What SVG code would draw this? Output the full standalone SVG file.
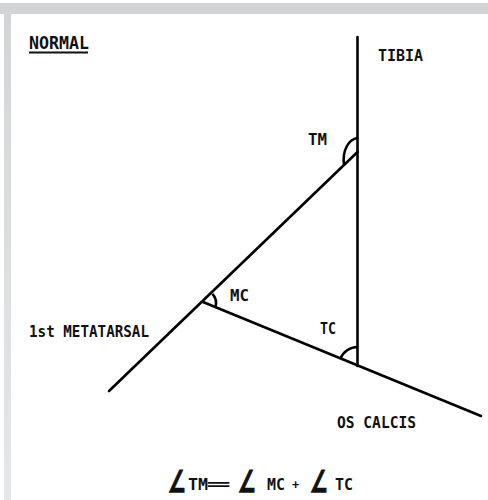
<svg xmlns="http://www.w3.org/2000/svg" width="488" height="500" viewBox="0 0 488 500">
  <defs>
    <linearGradient id="leftband" x1="0" y1="0" x2="0" y2="1">
      <stop offset="0" stop-color="#d3d4d6"/>
      <stop offset="1" stop-color="#e6e7e8"/>
    </linearGradient>
  </defs>
  <style>
    .ln { stroke: #000; stroke-width: 2.6; fill: none; stroke-linecap: round; }
    .arc { stroke: #000; stroke-width: 2.6; fill: none; }
    .t { font-family: "DejaVu Sans Mono", "Liberation Mono", monospace; font-weight: bold; fill: #111; }
    .ang { font-family: "DejaVu Sans", "Liberation Sans", sans-serif; font-weight: bold; fill: #111; stroke: #111; stroke-width: 1.4; }
  </style>
  <rect x="0" y="0" width="488" height="500" fill="#fff"/>
  <rect x="0" y="3" width="488" height="11" fill="#d3d4d6"/>
  <rect x="4" y="3" width="7" height="497" fill="url(#leftband)"/>

  <g id="connectors">
    <line id="tibia-line" class="ln" x1="357.5" y1="37" x2="357.5" y2="366"/>
    <line id="metatarsal-line" class="ln" x1="109" y1="391" x2="357.5" y2="152"/>
    <line id="calcis-line" class="ln" x1="203" y1="302" x2="481" y2="416"/>
    <path id="arc-tm" class="arc" d="M357.5,138 C349,139 342,150 344,165"/>
    <path id="arc-mc" class="arc" d="M212.4,293.8 A13,13 0 0 1 215.2,307.2"/>
    <path id="arc-tc" class="arc" d="M357.5,347 A18.5,18.5 0 0 0 340.4,358.8"/>
  </g>

  <g id="title">
    <text class="t" x="29" y="49" font-size="17" textLength="60" lengthAdjust="spacingAndGlyphs">NORMAL</text>
    <line x1="29" y1="52.5" x2="88" y2="52.5" stroke="#111" stroke-width="2"/>
  </g>
  <g id="tibia"><text class="t" x="378" y="61" font-size="16" textLength="45" lengthAdjust="spacingAndGlyphs">TIBIA</text></g>
  <g id="tm"><text class="t" x="308" y="145" font-size="15" textLength="19" lengthAdjust="spacingAndGlyphs">TM</text></g>
  <g id="mc"><text class="t" x="230" y="301" font-size="15" textLength="19" lengthAdjust="spacingAndGlyphs">MC</text></g>
  <g id="metatarsal"><text class="t" x="29" y="337" font-size="16" textLength="120" lengthAdjust="spacingAndGlyphs">1st METATARSAL</text></g>
  <g id="tc"><text class="t" x="320" y="334" font-size="15" textLength="16" lengthAdjust="spacingAndGlyphs">TC</text></g>
  <g id="os-calcis"><text class="t" x="337" y="428" font-size="16" textLength="79" lengthAdjust="spacingAndGlyphs">OS CALCIS</text></g>

  <g id="equation">
    <text class="ang" x="0" y="0" font-size="30" transform="translate(168,492) scale(0.65,1)">∠</text>
    <text class="t" x="188" y="490" font-size="16" textLength="20" lengthAdjust="spacingAndGlyphs">TM</text>
    <text class="t" x="0" y="0" font-size="16" transform="translate(206,489) scale(2.6,1)">=</text>
    <text class="ang" x="0" y="0" font-size="30" transform="translate(238,492) scale(0.65,1)">∠</text>
    <text class="t" x="267" y="490" font-size="15" textLength="18" lengthAdjust="spacingAndGlyphs">MC</text>
    <text class="t" x="292" y="489" font-size="12">+</text>
    <text class="ang" x="0" y="0" font-size="30" transform="translate(310,492) scale(0.65,1)">∠</text>
    <text class="t" x="335" y="490" font-size="15" textLength="18" lengthAdjust="spacingAndGlyphs">TC</text>
  </g>
</svg>
